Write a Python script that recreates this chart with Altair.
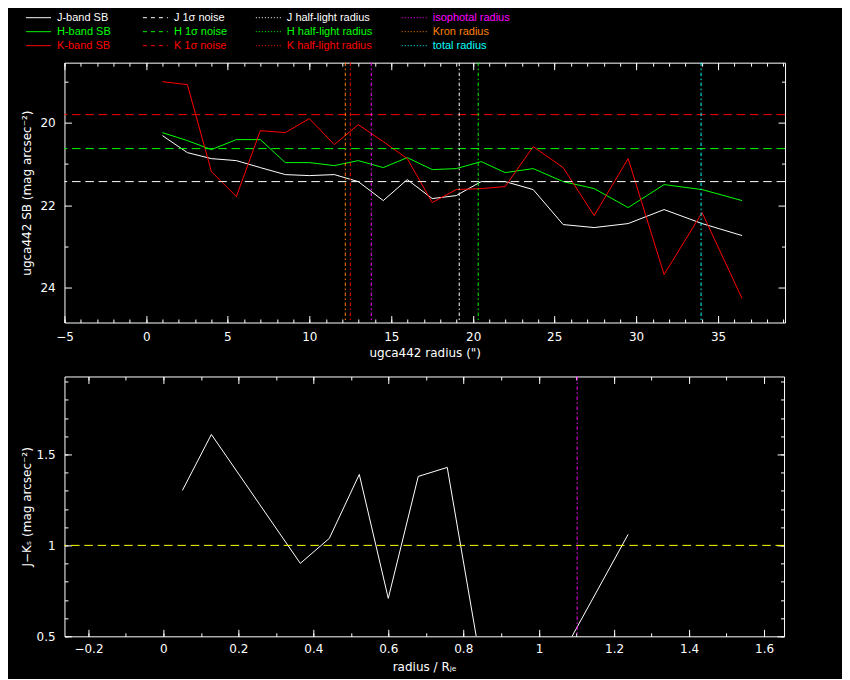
import altair as alt
import pandas as pd

# ---------------- data ----------------
radius = [1.0, 2.5, 4.0, 5.5, 7.0, 8.5, 10.0, 11.5, 13.0, 14.5, 16.0, 17.5,
          19.0, 20.5, 22.0, 23.7, 25.5, 27.4, 29.5, 31.7, 34.0, 36.5]
j_sb = [20.32, 20.72, 20.87, 20.93, 21.09, 21.27, 21.29, 21.25, 21.42, 21.89, 21.39, 21.84,
        21.76, 21.42, 21.42, 21.63, 22.48, 22.55, 22.46, 22.10, 22.44, 22.73]
h_sb = [20.23, 20.44, 20.66, 20.40, 20.42, 20.97, 20.97, 21.03, 20.91, 21.08, 20.84, 21.15,
        21.12, 20.95, 21.21, 21.12, 21.43, 21.59, 22.06, 21.50, 21.63, 21.88]
k_sb = [19.00, 19.08, 21.19, 21.80, 20.20, 20.23, 19.91, 20.54, 20.06, 20.45, 20.88, 21.94,
        21.63, 21.61, 21.55, 20.57, 21.09, 22.26, 20.87, 23.68, 22.18, 24.26]

bands = ["J", "H", "K"]
band_colors = ["#ffffff", "#00ff00", "#ff0000"]
noise_levels = [21.44, 20.64, 19.81]

rad_names = ["J half-light radius", "H half-light radius", "K half-light radius",
             "isophotal radius", "Kron radius", "total radius"]
rad_values = [19.16, 20.32, 12.50, 13.78, 12.19, 33.98]
rad_colors = ["#ffffff", "#00ff00", "#ff0000", "#ff00ff", "#ff8000", "#00ffff"]

color_ratio = [0.051, 0.129, 0.364, 0.441, 0.521, 0.600, 0.679, 0.757, 0.834, 0.991, 1.237]
j_minus_k = [1.30, 1.61, 0.90, 1.04, 1.39, 0.71, 1.38, 1.43, 0.50, 0.13, 1.06]
color_ref = [1.0]
color_vline = [1.102]

legend_labels = ["J-band SB", "H-band SB", "K-band SB",
                 "J 1\u03c3 noise", "H 1\u03c3 noise", "K 1\u03c3 noise",
                 "J half-light radius", "H half-light radius", "K half-light radius",
                 "isophotal radius", "Kron radius", "total radius"]
legend_colors = ["#ffffff", "#00ff00", "#ff0000"] * 3 + ["#ff00ff", "#ff8000", "#00ffff"]
legend_styles = ["solid"] * 3 + ["dash"] * 3 + ["dot"] * 6

top_xmaj = [-5, 0, 5, 10, 15, 20, 25, 30, 35]
top_xmin = list(range(-5, 40))
top_ymaj = [20, 22, 24]
top_ymin = [19, 21, 23]
bot_xmaj = [-0.2, 0, 0.2, 0.4, 0.6, 0.8, 1.0, 1.2, 1.4, 1.6]
bot_xmin = [round(-0.2 + 0.1 * i, 1) for i in range(19)]
bot_ymaj = [0.5, 1.0, 1.5]
bot_ymin = [round(0.5 + 0.1 * i, 1) for i in range(15)]

# ---------------- layout / style ----------------
FONT = "DejaVu Sans"
LEG_FONT = "Liberation Sans"
TOP_W, TOP_H = 721, 260
BOT_W, BOT_H = 720, 260
PLOT_LEFT = 64.5
PLOT_TOP = 61.5
LEG_COL_PAGE_X = [26, 143, 256, 402]
LEG_ROW_PAGE_Y = [16.5, 44.5]
MAJ, MIN = 7, 3.5
YELLOW = "#ffff00"
MAGENTA = "#ff00ff"

NOISE_DASH = [8.5, 4.8]
RAD_DASH = [3.5, 2.5, 1.5, 2.5]

xs_top = alt.Scale(domain=[-5, 39.1], nice=False, zero=False, round=True)
ys_top = alt.Scale(domain=[18.545, 24.848], reverse=True, nice=False, zero=False, round=True)
xs_bot = alt.Scale(domain=[-0.2636, 1.6534], nice=False, zero=False, round=True)
ys_bot = alt.Scale(domain=[0.5, 1.9286], nice=False, zero=False, round=True)


def frame_axes(df, xf, yf, xsc, ysc, xmaj, xmin, ymaj, ymin, xtitle, ytitle, xpad, ypad):
    base = alt.Chart(df).mark_point(opacity=0, size=1, clip=True)

    def lab(orient, values, pad, title, **kw):
        return alt.Axis(orient=orient, values=values, ticks=False, tickSize=0, domain=False,
                        grid=False, labels=True, labelPadding=pad, format="~g",
                        labelFlush=False, labelOverlap=False,
                        labelColor="white", labelFont=FONT, labelFontSize=12,
                        title=title, titleColor="white", titleFont=FONT,
                        titleFontSize=12, titleFontWeight="normal", **kw)

    def tk(orient, values, size):
        return alt.Axis(orient=orient, values=values, ticks=True, tickSize=size,
                        offset=-size, tickColor="white", tickWidth=1, domain=False,
                        grid=False, labels=False, title="")

    pairs = [
        (lab("bottom", xmaj, xpad, xtitle, titleY=25), lab("left", ymaj, ypad, ytitle, titleX=-30.5)),
        (tk("bottom", xmaj, MAJ), tk("left", ymaj, MAJ)),
        (tk("bottom", xmin, MIN), tk("left", ymin, MIN)),
        (tk("top", xmaj, MAJ), tk("right", ymaj, MAJ)),
        (tk("top", xmin, MIN), tk("right", ymin, MIN)),
    ]
    return [base.encode(x=alt.X(f"{xf}:Q", scale=xsc, axis=a),
                        y=alt.Y(f"{yf}:Q", scale=ysc, axis=b)) for a, b in pairs]


# ---------------- top panel ----------------
n = len(radius)
sb_df = pd.DataFrame({"radius": radius * 3, "sb": j_sb + h_sb + k_sb,
                      "band": ["J"] * n + ["H"] * n + ["K"] * n})
noise_df = pd.DataFrame({"band": bands, "level": noise_levels})
rad_df = pd.DataFrame({"name": rad_names, "value": rad_values})

sb_lines = alt.Chart(sb_df).mark_line(strokeWidth=1, clip=True).encode(
    x=alt.X("radius:Q", scale=xs_top, axis=None),
    y=alt.Y("sb:Q", scale=ys_top, axis=None),
    color=alt.Color("band:N", scale=alt.Scale(domain=bands, range=band_colors), legend=None),
    order="radius:Q",
)
noise_rules = alt.Chart(noise_df).mark_rule(strokeWidth=1, strokeDash=NOISE_DASH).encode(
    y=alt.Y("level:Q", scale=ys_top, axis=None),
    color=alt.Color("band:N", scale=alt.Scale(domain=bands, range=band_colors), legend=None),
)
rad_rules = alt.Chart(rad_df).mark_rule(strokeWidth=1, strokeDash=RAD_DASH).encode(
    x=alt.X("value:Q", scale=xs_top, axis=None),
    color=alt.Color("name:N", scale=alt.Scale(domain=rad_names, range=rad_colors), legend=None),
)

leg_df = pd.DataFrame({"label": legend_labels, "style": legend_styles})
leg_df["row"] = [i % 3 for i in range(len(legend_labels))]
leg_df["x0"] = [LEG_COL_PAGE_X[i // 3] - PLOT_LEFT for i in range(len(legend_labels))]
leg_df["x1"] = leg_df["x0"] + 25
leg_df["xt"] = leg_df["x0"] + 31
lx = alt.Scale(domain=[0, TOP_W], range=[0, TOP_W], nice=False, zero=False)
ly = alt.Scale(domain=[0, 2], range=[LEG_ROW_PAGE_Y[0] - PLOT_TOP, LEG_ROW_PAGE_Y[1] - PLOT_TOP],
               nice=False, zero=False)
leg_color = alt.Color("label:N", scale=alt.Scale(domain=legend_labels, range=legend_colors),
                      legend=None)
leg_rules = alt.Chart(leg_df).mark_rule(strokeWidth=1).encode(
    x=alt.X("x0:Q", scale=lx, axis=None), x2="x1:Q",
    y=alt.Y("row:Q", scale=ly, axis=None),
    color=leg_color,
    strokeDash=alt.StrokeDash("style:N", scale=alt.Scale(domain=["solid", "dash", "dot"],
                              range=[[1, 0], [4, 4], [1, 2]]), legend=None),
)
leg_text = alt.Chart(leg_df).mark_text(align="left", baseline="middle", font=LEG_FONT,
                                       fontSize=11).encode(
    x=alt.X("xt:Q", scale=lx, axis=None),
    y=alt.Y("row:Q", scale=ly, axis=None),
    text="label:N",
    color=leg_color,
)

top_axes = frame_axes(sb_df, "radius", "sb", xs_top, ys_top, top_xmaj, top_xmin, top_ymaj, top_ymin,
                      'ugca442 radius (")', "ugca442 SB (mag arcsec\u207b\u00b2)", 9, 9.3)

top = alt.layer(sb_lines, noise_rules, rad_rules, leg_rules, leg_text, *top_axes).resolve_scale(
    x="independent", y="independent", color="independent", strokeDash="independent"
).resolve_axis(x="independent", y="independent").properties(width=TOP_W, height=TOP_H)

# ---------------- bottom panel ----------------
jk_df = pd.DataFrame({"ratio": color_ratio, "jk": j_minus_k})
ref_df = pd.DataFrame({"level": color_ref})
vl_df = pd.DataFrame({"value": color_vline})

jk_line = alt.Chart(jk_df).mark_line(strokeWidth=1, clip=True, color="white").encode(
    x=alt.X("ratio:Q", scale=xs_bot, axis=None),
    y=alt.Y("jk:Q", scale=ys_bot, axis=None),
    order="ratio:Q",
)
ref_rule = alt.Chart(ref_df).mark_rule(strokeWidth=1, strokeDash=NOISE_DASH, color=YELLOW).encode(
    y=alt.Y("level:Q", scale=ys_bot, axis=None),
)
vl_rule = alt.Chart(vl_df).mark_rule(strokeWidth=1, strokeDash=RAD_DASH, color=MAGENTA).encode(
    x=alt.X("value:Q", scale=xs_bot, axis=None),
)
bot_axes = frame_axes(jk_df, "ratio", "jk", xs_bot, ys_bot, bot_xmaj, bot_xmin, bot_ymaj, bot_ymin,
                      "radius / R\u2c7c\u2091", "J\u2212K\u209b (mag arcsec\u207b\u00b2)", 7, 9.3)

bottom = alt.layer(jk_line, ref_rule, vl_rule, *bot_axes).resolve_scale(
    x="independent", y="independent"
).resolve_axis(x="independent", y="independent").properties(width=BOT_W, height=BOT_H)

chart = alt.vconcat(top, bottom, spacing=54, bounds="flush").properties(
    padding={"left": 12.5, "top": 2.5, "right": 56, "bottom": 5},
    background="black",
).configure_view(stroke="white", strokeWidth=1)

chart.save("out.html", embed_options={"renderer": "svg", "actions": False})
